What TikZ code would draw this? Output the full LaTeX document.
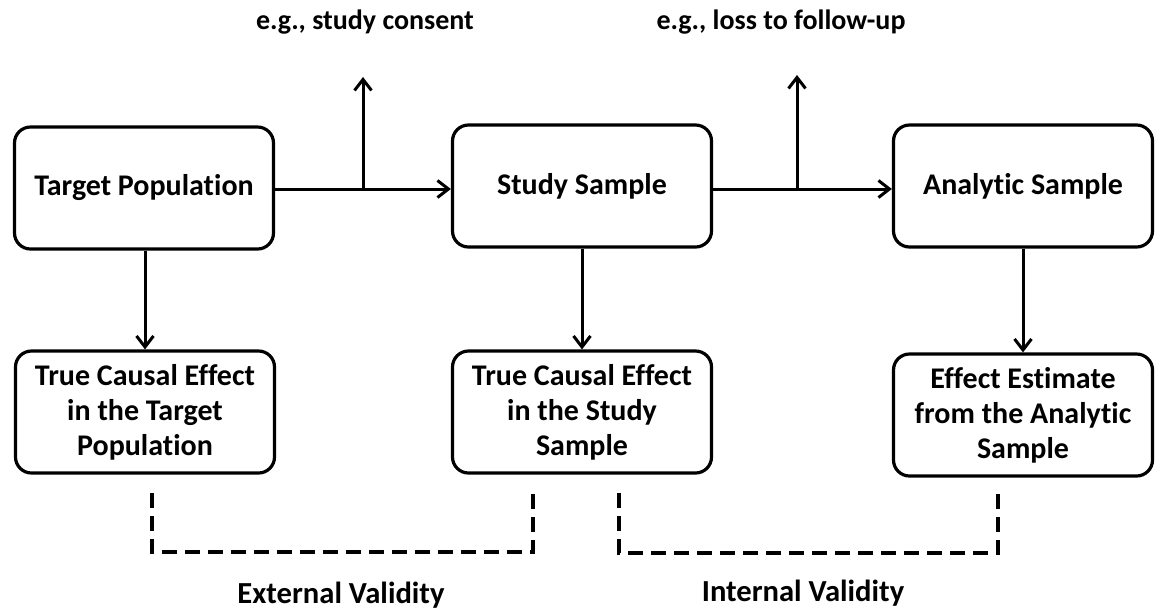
\documentclass[tikz,border=0pt]{standalone}
\usepackage{fontspec}
\setmainfont{Carlito}[Ligatures={NoCommon}]
\usetikzlibrary{arrows.meta}
\begin{document}
\begin{tikzpicture}[x=0.5pt,y=-0.5pt,
  box/.style={draw, line width=1.6pt, rounded corners=8pt, inner sep=0pt,
    minimum width=129.5pt, minimum height=61pt, align=center,
    font=\fontsize{15}{17.5}\selectfont\bfseries},
  lbl/.style={inner sep=0pt, font=\fontsize{14}{17}\selectfont\bfseries},
  vlbl/.style={inner sep=0pt, font=\fontsize{15.3}{17}\selectfont\bfseries},
  flow/.style={line width=1.5pt, -{Straight Barb[length=5.5pt,width=8.5pt,line width=1.5pt]}},
  bracket/.style={line width=1.6pt, dash pattern=on 7.5pt off 4pt}]
\useasboundingbox (0,0) rectangle (1155,612);

% top row
\node[box] (tp) at (144,188) {Target Population};
\node[box] (ss) at (582,186) {Study Sample};
\node[box] (as) at (1023,186) {Analytic Sample};

% bottom row
\node[box] (te1) at (145,412) {True Causal Effect\\in the Target\\Population};
\node[box] (te2) at (582,412) {True Causal Effect\\in the Study\\Sample};
\node[box] (te3) at (1023,415) {Effect Estimate\\from the Analytic\\Sample};

% selection branches
\coordinate (b1) at (363,189);
\coordinate (t1) at (363,77);
\coordinate (b2) at (797,189);
\coordinate (t2) at (797,75);
\node[lbl] (l1) at (365,22) {e.g., study consent};
\node[lbl] (l2) at (781,22) {e.g., loss to follow-up};

\draw[flow] (tp.east |- b1) -- (ss.west |- b1);
\draw[flow] (ss.east |- b2) -- (as.west |- b2);
\draw[flow] (b1) -- (t1);
\draw[flow] (b2) -- (t2);

% vertical arrows
\draw[flow] (tp.south -| te1) -- (te1.north);
\draw[flow] (ss.south) -- (te2.north);
\draw[flow] (as.south) -- (te3.north);

% validity brackets
\coordinate (e1) at (152,493);
\coordinate (e2) at (152,552);
\coordinate (e3) at (533,552);
\coordinate (e4) at (533,492);
\coordinate (i1) at (619,493);
\coordinate (i2) at (619,553);
\coordinate (i3) at (998,553);
\coordinate (i4) at (998,494);
\draw[bracket] (e1) -- (e2) -- (e3) -- (e4);
\draw[bracket] (i1) -- (i2) -- (i3) -- (i4);
\node[vlbl] (ev) at (341,595) {External Validity};
\node[vlbl] (iv) at (803,593) {Internal Validity};
\end{tikzpicture}
\end{document}
